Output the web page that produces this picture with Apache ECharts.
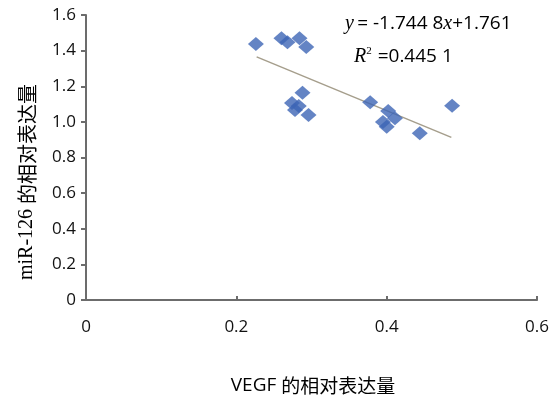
<!DOCTYPE html>
<html>
<head>
<meta charset="utf-8">
<script src="https://cdn.jsdelivr.net/npm/echarts@6/dist/echarts.min.js"></script>
<style>
  html, body { margin: 0; padding: 0; background: #fff; }
  #chart { width: 552px; height: 401px; }
</style>
</head>
<body>
<div id="chart"></div>
<script>
// VEGF 相对表达量 (x) 与 miR-126 相对表达量 (y)
const vegf = [0.226, 0.260, 0.268, 0.284, 0.293,
              0.288, 0.274, 0.283, 0.278, 0.296,
              0.378, 0.402, 0.411, 0.400, 0.395, 0.444, 0.487];
const mir126 = [1.437, 1.469, 1.447, 1.470, 1.420,
                1.163, 1.106, 1.089, 1.067, 1.039,
                1.110, 1.061, 1.020, 0.973, 1.000, 0.936, 1.091];

// 趋势线两端
const trendX = [0.227, 0.486];
const trendY = [1.365, 0.913];

const labelFont = "'Open Sans', 'Noto Sans', sans-serif";
const serif = "'Liberation Serif', 'Times New Roman', serif";
const cjk = "'Noto Sans CJK SC', sans-serif";

const chart = echarts.init(document.getElementById("chart"));

const axisColor = "#6c6c6c";
const axisLine = { show: true, lineStyle: { color: axisColor, width: 2 } };

const option = {
  animation: false,
  grid: { left: 86, right: 11, top: 15, bottom: 101, containLabel: false },
  xAxis: {
    type: "value",
    min: 0,
    max: 0.6,
    interval: 0.2,
    axisLine: axisLine,
    axisTick: { show: true, inside: true, length: 4, lineStyle: { color: axisColor, width: 2 } },
    splitLine: { show: false },
    axisLabel: {
      color: "#111",
      fontSize: 17,
      fontFamily: labelFont,
      margin: 19,
      formatter: (v) => (v === 0 ? "0" : v.toFixed(1)),
    },
  },
  yAxis: {
    type: "value",
    min: 0,
    max: 1.6,
    interval: 0.2,
    axisLine: axisLine,
    axisTick: { show: true, length: 5, lineStyle: { color: axisColor, width: 2 } },
    splitLine: { show: false },
    axisLabel: {
      color: "#111",
      fontSize: 17,
      fontFamily: labelFont,
      margin: 10,
      formatter: (v) => (v === 0 ? "0" : v.toFixed(1)),
    },
  },
  series: [
    {
      name: "趋势线",
      type: "line",
      data: trendX.map((x, i) => [x, trendY[i]]),
      symbol: "none",
      lineStyle: { color: "#a59e8c", width: 1.5 },
      z: 1,
    },
    {
      name: "样本",
      type: "scatter",
      data: vegf.map((x, i) => [x, mir126[i]]),
      symbol: "diamond",
      symbolSize: [16, 14],
      itemStyle: { color: "#3d65b5" },
      z: 2,
    },
  ],
  graphic: [
    {
      type: "text",
      left: 345,
      top: 14,
      style: {
        text: "{i|y} {n|= -1.744 8}{i|x}{n|+1.761}",
        rich: {
          i: { fontFamily: serif, fontStyle: "italic", fontSize: 20, fill: "#000" },
          n: { fontFamily: labelFont, fontSize: 19, fill: "#000" },
        },
      },
    },
    {
      type: "text",
      left: 354,
      top: 46,
      style: {
        text: "{i|R}{s|2}{n| =0.445 1}",
        rich: {
          i: { fontFamily: serif, fontStyle: "italic", fontSize: 20, fill: "#000" },
          s: { fontFamily: serif, fontSize: 11, fill: "#000", verticalAlign: "top", padding: [0, 1, 10, 0] },
          n: { fontFamily: labelFont, fontSize: 19, fill: "#000" },
        },
      },
    },
    {
      type: "text",
      x: 27,
      y: 182,
      rotation: Math.PI / 2,
      style: {
        text: "{a|miR-126 }{b|的相对表达量}",
        align: "center",
        verticalAlign: "middle",
        rich: {
          a: { fontFamily: serif, fontSize: 20, fill: "#000" },
          b: { fontFamily: cjk, fontSize: 20, fill: "#000" },
        },
      },
    },
    {
      type: "text",
      x: 313,
      y: 386,
      style: {
        text: "{a|VEGF }{b|的相对表达量}",
        align: "center",
        verticalAlign: "middle",
        rich: {
          a: { fontFamily: labelFont, fontSize: 19, fill: "#000" },
          b: { fontFamily: cjk, fontSize: 19, fill: "#000" },
        },
      },
    },
  ],
};

chart.setOption(option);
</script>
</body>
</html>
